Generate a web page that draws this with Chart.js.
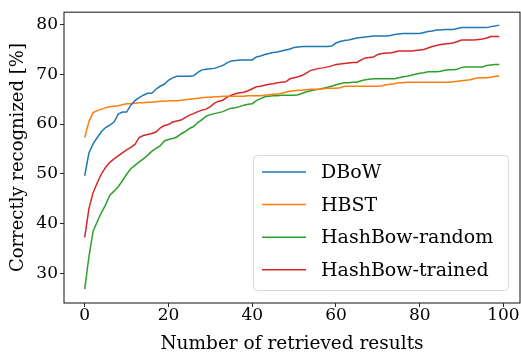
<!DOCTYPE html>
<html>
<head>
<meta charset="utf-8">
<script src="https://cdn.jsdelivr.net/npm/chart.js@4/dist/chart.umd.min.js"></script>
<style>
  html, body { margin: 0; padding: 0; background: #fff; }
  #wrap { width: 521px; height: 356px; }
</style>
</head>
<body>
<div id="wrap"><canvas id="c" width="521" height="356"></canvas></div>
<script>
// Number of retrieved results (0..99)
const retrieved = Array.from({ length: 100 }, (_, i) => i);

const seriesNames = ['DBoW', 'HBST', 'HashBow-random', 'HashBow-trained'];
const seriesColors = ['#1f77b4', '#ff7f0e', '#2ca02c', '#d62728'];

// Correctly recognized [%] per number of retrieved results
const dbow = [
  49.6, 54.2, 56.0, 57.3, 58.5, 59.3, 59.8, 60.4, 62.0, 62.4,
  62.4, 63.8, 64.7, 65.3, 65.8, 66.2, 66.2, 67.0, 67.6, 68.0,
  68.8, 69.3, 69.6, 69.6, 69.6, 69.6, 69.7, 70.4, 70.9, 71.0,
  71.1, 71.2, 71.5, 71.8, 72.3, 72.7, 72.8, 72.9, 72.9, 72.9,
  72.9, 73.5, 73.7, 74.0, 74.2, 74.4, 74.5, 74.7, 74.9, 75.1,
  75.4, 75.5, 75.6, 75.6, 75.6, 75.6, 75.6, 75.6, 75.6, 75.7,
  76.3, 76.6, 76.8, 76.9, 77.1, 77.3, 77.4, 77.5, 77.6, 77.7,
  77.7, 77.7, 77.7, 77.8, 78.0, 78.1, 78.2, 78.2, 78.2, 78.2,
  78.2, 78.4, 78.6, 78.7, 78.9, 78.9, 79.0, 79.0, 79.0, 79.2,
  79.4, 79.4, 79.4, 79.4, 79.4, 79.4, 79.4, 79.6, 79.7, 79.9
];
const hbst = [
  57.3, 60.5, 62.3, 62.7, 63.0, 63.3, 63.5, 63.6, 63.7, 63.9,
  64.1, 64.1, 64.2, 64.3, 64.3, 64.4, 64.4, 64.5, 64.6, 64.6,
  64.7, 64.7, 64.7, 64.8, 64.9, 65.0, 65.1, 65.2, 65.3, 65.4,
  65.4, 65.5, 65.5, 65.6, 65.6, 65.6, 65.6, 65.6, 65.6, 65.7,
  65.7, 65.7, 65.7, 65.8, 65.9, 66.0, 66.0, 66.2, 66.4, 66.6,
  66.7, 66.8, 66.8, 66.9, 67.0, 67.0, 67.0, 67.1, 67.2, 67.2,
  67.2, 67.3, 67.6, 67.6, 67.6, 67.6, 67.6, 67.6, 67.6, 67.6,
  67.6, 67.7, 67.9, 68.0, 68.1, 68.3, 68.3, 68.4, 68.4, 68.4,
  68.4, 68.4, 68.4, 68.4, 68.4, 68.4, 68.4, 68.4, 68.5, 68.6,
  68.7, 68.8, 68.9, 69.1, 69.3, 69.3, 69.3, 69.4, 69.6, 69.6
];
const hashbowRandom = [
  26.8, 33.3, 38.4, 40.4, 42.2, 43.8, 45.7, 46.5, 47.4, 48.6,
  49.9, 51.0, 51.7, 52.4, 53.0, 53.7, 54.5, 55.1, 55.6, 56.6,
  56.9, 57.1, 57.4, 58.0, 58.5, 59.1, 59.5, 60.3, 60.9, 61.6,
  61.9, 62.1, 62.3, 62.5, 62.9, 63.2, 63.3, 63.5, 63.8, 64.0,
  64.1, 64.7, 65.1, 65.5, 65.6, 65.7, 65.7, 65.8, 65.8, 65.8,
  65.8, 65.9, 66.2, 66.5, 66.7, 66.9, 67.0, 67.2, 67.4, 67.6,
  67.9, 68.1, 68.3, 68.3, 68.4, 68.4, 68.7, 68.9, 69.0, 69.1,
  69.1, 69.1, 69.1, 69.1, 69.1, 69.3, 69.5, 69.6, 69.8, 70.0,
  70.2, 70.3, 70.5, 70.5, 70.5, 70.6, 70.8, 70.9, 70.9, 71.0,
  71.4, 71.5, 71.5, 71.5, 71.5, 71.5, 71.8, 71.9, 72.0, 72.0
];
const hashbowTrained = [
  37.2, 43.0, 46.2, 48.2, 50.0, 51.3, 52.3, 53.0, 53.6, 54.2,
  54.8, 55.3, 55.9, 57.3, 57.7, 57.9, 58.1, 58.4, 59.2, 59.7,
  59.9, 60.4, 60.6, 60.8, 61.3, 61.8, 62.1, 62.5, 62.8, 63.0,
  63.5, 64.2, 64.6, 64.8, 65.4, 65.8, 66.1, 66.3, 66.4, 66.7,
  67.1, 67.5, 67.6, 67.8, 68.0, 68.1, 68.3, 68.4, 68.5, 69.1,
  69.3, 69.5, 69.8, 70.3, 70.8, 71.0, 71.2, 71.3, 71.5, 71.7,
  72.0, 72.1, 72.2, 72.3, 72.4, 72.4, 72.9, 73.3, 73.4, 73.5,
  74.0, 74.2, 74.3, 74.3, 74.5, 74.7, 74.7, 74.7, 74.7, 74.8,
  74.9, 75.0, 75.3, 75.6, 75.8, 76.0, 76.1, 76.2, 76.3, 76.6,
  76.9, 76.9, 76.9, 76.9, 77.0, 77.1, 77.3, 77.6, 77.6, 77.6
];
const seriesValues = [dbow, hbst, hashbowRandom, hashbowTrained];

const xTicks = [0, 20, 40, 60, 80, 100];
const yTicks = [30, 40, 50, 60, 70, 80];

const FONT = 'DejaVu Serif';
const INK = '#262626';

// Frame around the plot area plus a boxed legend inside it
const framePlugin = {
  id: 'frameAndLegend',
  afterDatasetsDraw(chart) {
    const { ctx, chartArea: a } = chart;
    ctx.save();
    ctx.strokeStyle = INK;
    ctx.lineWidth = 1.1;
    ctx.strokeRect(a.left, a.top, a.right - a.left, a.bottom - a.top);

    // legend box
    const bx = 253.5, by = 155.5, bw = 255, bh = 135, r = 4;
    ctx.beginPath();
    ctx.moveTo(bx + r, by);
    ctx.arcTo(bx + bw, by, bx + bw, by + bh, r);
    ctx.arcTo(bx + bw, by + bh, bx, by + bh, r);
    ctx.arcTo(bx, by + bh, bx, by, r);
    ctx.arcTo(bx, by, bx + bw, by, r);
    ctx.closePath();
    ctx.fillStyle = 'rgba(255,255,255,0.8)';
    ctx.fill();
    ctx.strokeStyle = '#d9d9d9';
    ctx.lineWidth = 1;
    ctx.stroke();

    ctx.font = '19px "' + FONT + '"';
    ctx.textBaseline = 'middle';
    ctx.textAlign = 'left';
    chart.data.datasets.forEach((ds, i) => {
      const y = 172 + i * 32.6;
      ctx.strokeStyle = ds.borderColor;
      ctx.lineWidth = 1.5;
      ctx.beginPath();
      ctx.moveTo(262, y);
      ctx.lineTo(306, y);
      ctx.stroke();
      ctx.fillStyle = '#000';
      ctx.fillText(ds.label, 321, y + 1);
    });
    ctx.restore();
  }
};

new Chart(document.getElementById('c'), {
  type: 'line',
  data: {
    labels: retrieved,
    datasets: seriesNames.map((name, i) => ({
      label: name,
      data: retrieved.map((x, j) => ({ x, y: seriesValues[i][j] })),
      borderColor: seriesColors[i],
      backgroundColor: seriesColors[i],
      borderWidth: 1.5,
      pointRadius: 0,
      tension: 0,
      fill: false
    }))
  },
  options: {
    responsive: false,
    devicePixelRatio: 1,
    animation: false,
    layout: { padding: { top: 6, right: 1, left: 0, bottom: 0 } },
    plugins: {
      legend: { display: false },
      tooltip: { enabled: false }
    },
    scales: {
      x: {
        type: 'linear',
        min: -4.95,
        max: 103.95,
        afterBuildTicks: (s) => { s.ticks = xTicks.map(v => ({ value: v })); },
        afterFit: (s) => { s.height = 53; },
        ticks: {
          color: '#000',
          font: { family: FONT, size: 17 },
          padding: -2,
          maxRotation: 0,
          autoSkip: false
        },
        grid: { drawOnChartArea: false, drawTicks: true, tickLength: 4, color: INK },
        border: { display: false },
        title: {
          display: true,
          text: 'Number of retrieved results',
          color: '#000',
          font: { family: FONT, size: 18.5 },
          padding: { top: 0, bottom: 1 }
        }
      },
      y: {
        type: 'linear',
        min: 24.0,
        max: 82.5,
        afterBuildTicks: (s) => { s.ticks = yTicks.map(v => ({ value: v })); },
        afterFit: (s) => { s.width = 64; },
        ticks: {
          color: '#000',
          font: { family: FONT, size: 17 },
          padding: 2
        },
        grid: { drawOnChartArea: false, drawTicks: true, tickLength: 4, color: INK },
        border: { display: false },
        title: {
          display: true,
          text: 'Correctly recognized [%]',
          color: '#000',
          font: { family: FONT, size: 18 },
          padding: { top: 8, bottom: 0 }
        }
      }
    }
  },
  plugins: [framePlugin]
});
</script>
</body>
</html>
